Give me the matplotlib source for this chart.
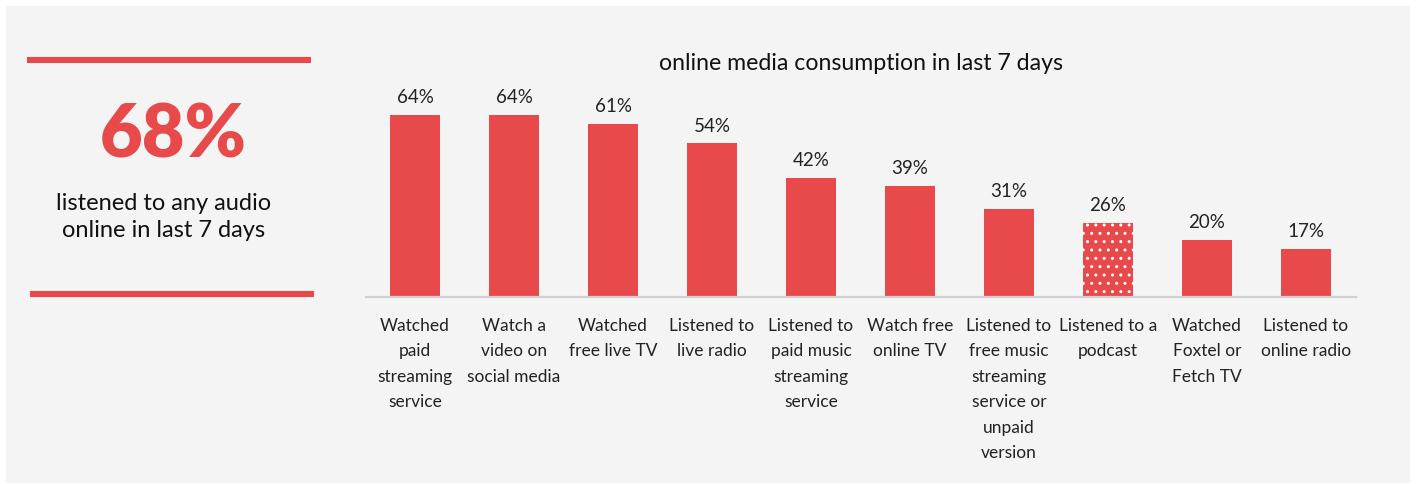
import matplotlib.pyplot as plt
from matplotlib.patches import Rectangle
from matplotlib.lines import Line2D

plt.rcParams['font.family'] = ['Lato', 'DejaVu Sans']
plt.rcParams['hatch.linewidth'] = 1.0

# online media consumption, share of respondents (%)
categories = [
    "Watched\npaid\nstreaming\nservice",
    "Watch a\nvideo on\nsocial media",
    "Watched\nfree live TV",
    "Listened to\nlive radio",
    "Listened to\npaid music\nstreaming\nservice",
    "Watch free\nonline TV",
    "Listened to\nfree music\nstreaming\nservice or\nunpaid\nversion",
    "Listened to a\npodcast",
    "Watched\nFoxtel or\nFetch TV",
    "Listened to\nonline radio",
]
values = [64, 64, 61, 54, 42, 39, 31, 26, 20, 17]
highlight = "Listened to a\npodcast"

headline_value = "68%"
headline_text = "listened to any audio\nonline in last 7 days"
title = "online media consumption in last 7 days"

RED = "#e8494a"
BG = "#f4f4f4"
W, H = 1416, 485

fig = plt.figure(figsize=(W / 100, H / 100), dpi=100)
fig.patch.set_facecolor("white")

# light grey panel behind everything
fig.patches.append(Rectangle((6 / W, 1 / H), 1404 / W, 477 / H,
                             transform=fig.transFigure, facecolor=BG,
                             edgecolor="none", zorder=-10))

# left call-out: red rules, big number and caption
fig.add_artist(Line2D([27 / W, 311 / W], [1 - 61 / H, 1 - 61 / H],
                      color=RED, lw=4.4, solid_capstyle="butt"))
fig.add_artist(Line2D([30 / W, 314 / W], [1 - 295 / H, 1 - 295 / H],
                      color=RED, lw=4.4, solid_capstyle="butt"))
fig.text(173 / W, 1 - 137 / H, headline_value, color=RED, fontsize=53,
         fontweight="heavy", ha="center", va="center")
fig.text(164 / W, 1 - 217 / H, headline_text, color="#111111", fontsize=17,
         ha="center", va="center", linespacing=1.3)

# bar chart
ax = fig.add_axes([365.5 / W, (H - 298) / H, 990 / W, 198 / H])
ax.set_facecolor("none")
x = list(range(len(categories)))
bars = ax.bar(x, values, width=0.5, color=RED, linewidth=0)
for b, cat in zip(bars, categories):
    if cat == highlight:
        b.set_hatch("..")
        b.set_edgecolor("white")

for xi, v in zip(x, values):
    ax.annotate(f"{v}%", (xi, v), xytext=(0, 7), textcoords="offset points",
                ha="center", va="bottom", fontsize=13.5, color="#222222")

ax.set_xlim(-0.5, 9.5)
ax.set_ylim(0, 198 / 2.844)
ax.set_xticks(x)
ax.set_xticklabels(categories, fontsize=12.5, color="#222222",
                   linespacing=1.72, va="top")
ax.tick_params(axis="x", length=0, pad=14.5)
ax.set_yticks([])
for s in ["top", "right", "left"]:
    ax.spines[s].set_visible(False)
ax.spines["bottom"].set_color("#d0d0d0")
ax.spines["bottom"].set_linewidth(1.6)

fig.text(861 / W, 1 - 64 / H, title, fontsize=16.7, color="#111111",
         ha="center", va="center")

fig.savefig("out.png", dpi=100, facecolor=fig.get_facecolor())
